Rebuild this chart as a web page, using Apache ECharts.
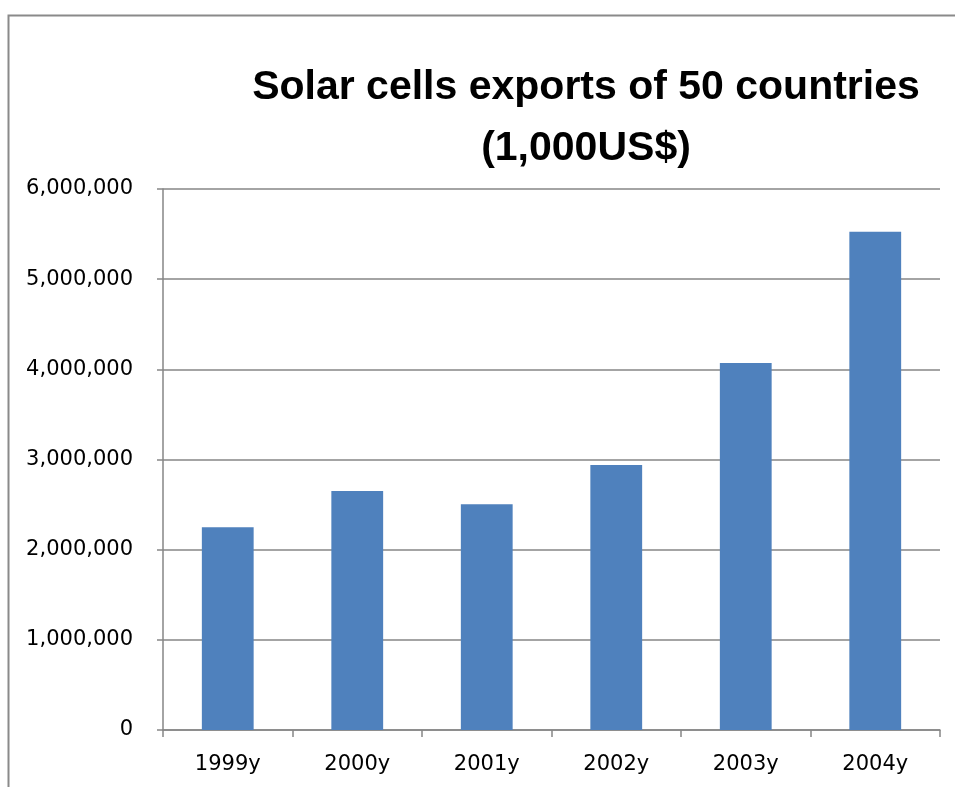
<!DOCTYPE html>
<html>
<head>
<meta charset="utf-8">
<script src="https://cdn.jsdelivr.net/npm/echarts@6/dist/echarts.min.js"></script>
<style>
  html, body { margin: 0; padding: 0; background: #fff; }
  #chart { width: 955px; height: 787px; }
</style>
</head>
<body>
<div id="chart"></div>
<script>
// values (1,000 US$)
const years = ['1999y', '2000y', '2001y', '2002y', '2003y', '2004y'];
const exportsValues = [2250000, 2650000, 2505000, 2940000, 4070000, 5525000];
const yTicks = { min: 0, max: 6000000, step: 1000000 };

const chart = echarts.init(document.getElementById('chart'));

const fmt = (v) => String(v).replace(/\B(?=(\d{3})+(?!\d))/g, ',');

chart.setOption({
  animation: false,
  backgroundColor: '#fff',
  title: {
    text: 'Solar cells exports of 50 countries\n(1,000US$)',
    left: 581,
    top: 52,
    textAlign: 'center',
    textStyle: {
      fontFamily: '"Liberation Sans", sans-serif',
      fontWeight: 'bold',
      fontSize: 41,
      lineHeight: 61,
      color: '#000',
    },
  },
  graphic: [
    {
      type: 'rect',
      shape: { x: 8.5, y: 15.5, width: 1000, height: 1000 },
      style: { fill: 'none', stroke: '#8a8a8a', lineWidth: 2 },
      silent: true,
    },
  ],
  grid: { left: 163, right: 15, top: 189, bottom: 57 },
  xAxis: {
    type: 'category',
    data: years,
    axisLine: { lineStyle: { color: '#868686', width: 1.5 } },
    axisTick: { show: true, length: 7, lineStyle: { color: '#868686', width: 1.5 } },
    axisLabel: {
      margin: 24,
      fontFamily: '"DejaVu Sans", sans-serif',
      fontSize: 21,
      color: '#000',
    },
  },
  yAxis: {
    type: 'value',
    min: yTicks.min,
    max: yTicks.max,
    interval: yTicks.step,
    axisLine: { show: true, lineStyle: { color: '#868686', width: 1.5 } },
    axisTick: { show: true, length: 6, lineStyle: { color: '#868686', width: 1.5 } },
    splitLine: { lineStyle: { color: '#868686', width: 1.5 } },
    axisLabel: {
      margin: 30,
      fontFamily: '"DejaVu Sans", sans-serif',
      fontSize: 21,
      color: '#000',
      formatter: fmt,
    },
  },
  series: [
    {
      name: 'Exports',
      type: 'bar',
      data: exportsValues,
      barCategoryGap: '60%',
      itemStyle: { color: '#4f81bd' },
    },
  ],
});
</script>
</body>
</html>
